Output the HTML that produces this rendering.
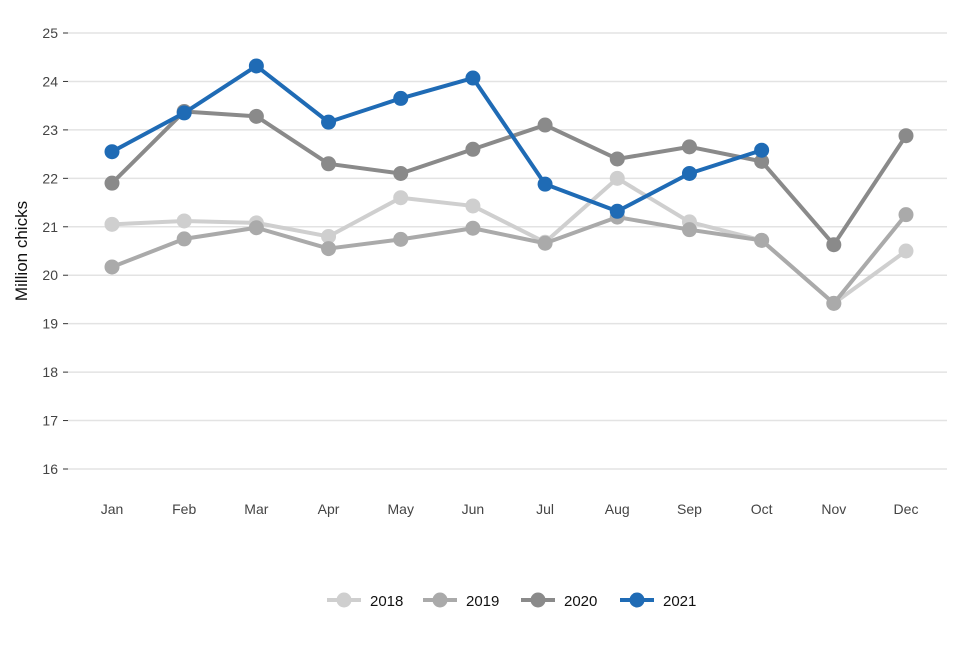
<!DOCTYPE html>
<html><head><meta charset="utf-8"><style>
body{margin:0;background:#fff;font-family:"Liberation Sans",sans-serif}
svg text{font-family:"Liberation Sans",sans-serif}
</style></head><body>
<svg id="c" width="960" height="640"></svg>
<script>
const months=["Jan","Feb","Mar","Apr","May","Jun","Jul","Aug","Sep","Oct","Nov","Dec"];
const yTicks=[16,17,18,19,20,21,22,23,24,25];
const seriesNames=["2018","2019","2020","2021"];
const seriesColors=["#cfcfcf","#aaaaaa","#8a8a8a","#1f6bb5"];
const v2018=[21.05,21.12,21.08,20.8,21.6,21.43,20.68,22.0,21.1,20.72,19.42,20.5];
const v2019=[20.17,20.75,20.98,20.55,20.74,20.97,20.66,21.2,20.94,20.72,19.42,21.25];
const v2020=[21.9,23.38,23.28,22.3,22.1,22.6,23.1,22.4,22.65,22.35,20.63,22.88];
const v2021=[22.55,23.35,24.32,23.16,23.65,24.07,21.88,21.32,22.1,22.58];
const allSeries=[v2018,v2019,v2020,v2021];
const NS="http://www.w3.org/2000/svg",svg=document.getElementById('c');
const x=i=>112+i*(906-112)/11;
const y=v=>469-(v-16)*(469-33)/9;
function mk(t,a,p){const e=document.createElementNS(NS,t);for(const k in a)e.setAttribute(k,a[k]);(p||svg).appendChild(e);return e;}
yTicks.forEach(t=>{
 const g=mk('line',{x1:68,x2:947,y1:y(t),y2:y(t),stroke:'#e3e3e3','stroke-width':1.5});
 
 
 mk('line',{x1:63,x2:68,y1:y(t),y2:y(t),stroke:'#333'});
 const l=mk('text',{x:58,y:y(t)+5,'text-anchor':'end','font-size':14,fill:'#444'});l.textContent=t;
 
 
});
months.forEach((m,i)=>{
 const l=mk('text',{x:x(i),y:514,'text-anchor':'middle','font-size':14,fill:'#444'});l.textContent=m;
 
 
});
const yt=mk('text',{transform:'translate(27,251) rotate(-90)','text-anchor':'middle','font-size':17,fill:'#111'});yt.textContent='Million chicks';


allSeries.forEach((s,k)=>{
 const g=mk('g',{});
 
 
 mk('polyline',{points:s.map((v,i)=>x(i)+','+y(v)).join(' '),fill:'none',stroke:seriesColors[k],'stroke-width':4,'stroke-linejoin':'round'},g);
 s.forEach((v,i)=>{const c=mk('circle',{cx:x(i),cy:y(v),r:7.5,fill:seriesColors[k]},g);
  
  });
});
const lx=[344,440,538,637];
seriesNames.forEach((n,k)=>{
 const g=mk('g',{});
 
 
 mk('line',{x1:lx[k]-17,x2:lx[k]+17,y1:600,y2:600,stroke:seriesColors[k],'stroke-width':4},g);
 mk('circle',{cx:lx[k],cy:600,r:7.5,fill:seriesColors[k]},g);
 const t=mk('text',{x:lx[k]+26,y:606,'font-size':15,fill:'#111'},g);t.textContent=n;
});
</script>
</body></html>
